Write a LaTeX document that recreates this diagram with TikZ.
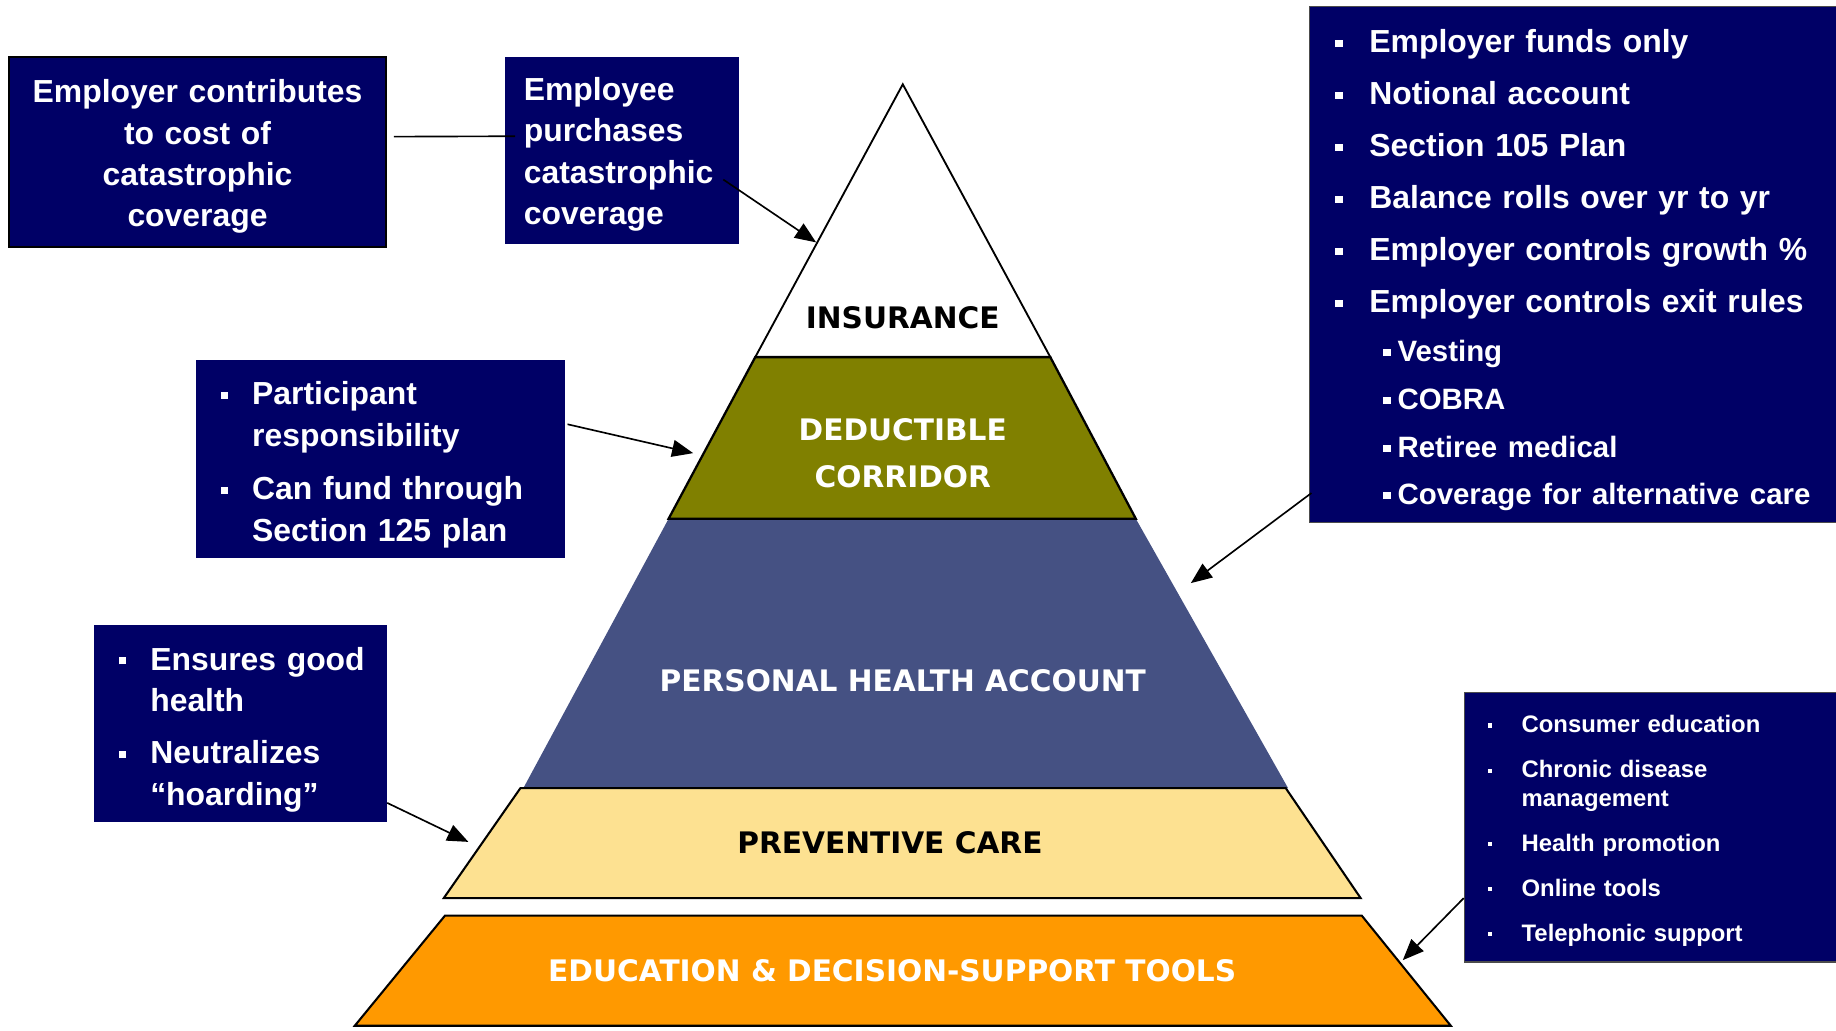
\documentclass[tikz,border=0pt]{standalone}
\usepackage{fontspec}
\setmainfont{Liberation Sans}
\newfontfamily\tierfont{DejaVu Sans}
\usetikzlibrary{arrows.meta}
\usetikzlibrary{positioning}

\definecolor{boxblue}{RGB}{0,0,102}
\definecolor{olivetier}{RGB}{128,128,0}
\definecolor{phablue}{RGB}{69,81,131}
\definecolor{prevyellow}{RGB}{253,225,145}
\definecolor{eduorange}{RGB}{255,153,0}

\newcommand{\sqb}{\rule[0.18em]{0.12cm}{0.12cm}}
\newcommand{\smallsqb}{\rule[0.22em]{0.07cm}{0.07cm}}
% lower a block of lines without changing its size
\newcommand{\drop}[2]{\raisebox{-#1}[\height][\depth]{#2}}

\begin{document}
\begin{tikzpicture}[
  infobox/.style={fill=boxblue, text=white, inner sep=0pt, anchor=north west},
  tier/.style={font=\tierfont\bfseries\fontsize{14.4}{22.8}\selectfont, align=center},
  link/.style={black, line width=0.8pt},
  pointer/.style={link, -{Triangle[length=0.36cm,width=0.29cm]}}
]
\clip (0,0) rectangle (31.36,17.6);

% pyramid tiers
\draw[fill=white,line width=0.9pt] (15.42,16.16) -- (12.9,11.5) -- (17.94,11.5) -- cycle;
\fill[phablue] (11.42,8.74) -- (19.40,8.74) -- (22.0,4.14) -- (8.94,4.14) -- cycle;
\draw[fill=olivetier,line width=1.1pt] (12.9,11.5) -- (17.94,11.5) -- (19.40,8.74) -- (11.42,8.74) -- cycle;
\draw[fill=prevyellow,line width=1pt] (8.89,4.14) -- (21.96,4.14) -- (23.24,2.26) -- (7.58,2.26) -- cycle;
\draw[fill=eduorange,line width=1pt] (7.6,1.96) -- (23.26,1.96) -- (24.78,0.08) -- (6.06,0.08) -- cycle;

\node[tier,text=black] (insur) at (15.42,12.18) {INSURANCE};
\node[tier,text=white] (deductible) at (15.42,9.86) {DEDUCTIBLE\\CORRIDOR};
\node[tier,text=white] (pha) at (15.42,5.98) {PERSONAL HEALTH ACCOUNT};
\node[tier,text=black] (prevcare) at (15.2,3.2) {PREVENTIVE CARE};
\node[tier,text=white] (edu) at (15.24,1.02) {EDUCATION \& DECISION-SUPPORT TOOLS};

% edge points the arrows land on
\coordinate (insEdge) at (13.94,13.46);
\coordinate (dedEdge) at (11.84,9.86);
\coordinate (phaEdge) at (20.34,7.64);
\coordinate (prevEdge) at (8.0,3.22);
\coordinate (eduEdge) at (23.96,1.2);

% call-out boxes
\node[infobox,draw=black,line width=0.8pt,align=center,text width=6.44cm,minimum height=3.24cm,
  font=\bfseries\fontsize{15.5}{20.1}\selectfont] (contrib) at (0.14,16.64)
  {\drop{0.08cm}{\begin{tabular}{@{}c@{}}
   Employer contributes\\to cost of\\catastrophic\\coverage
   \end{tabular}}};

\node[infobox,align=left,inner xsep=0.32cm,text width=3.36cm,minimum height=3.2cm,
  font=\bfseries\fontsize{15.5}{20.1}\selectfont] (buys) at (8.62,16.64)
  {\drop{0.07cm}{\begin{tabular}{@{}l@{}}
   Employee\\purchases\\catastrophic\\coverage
   \end{tabular}}};

\node[infobox,align=left,text width=6.3cm,minimum height=3.38cm,
  font=\bfseries\fontsize{15.5}{20.5}\selectfont] (deduct) at (3.34,11.46)
  {\drop{0.1cm}{\begin{tabular}{@{\hspace{0.42cm}}p{0.54cm}@{}l@{}}
   \sqb & Participant\\ & responsibility\\[5pt]
   \sqb & Can fund through\\ & Section 125 plan
   \end{tabular}}};

\node[infobox,align=left,text width=5cm,minimum height=3.38cm,
  font=\bfseries\fontsize{15.5}{20}\selectfont] (prevent) at (1.6,6.94)
  {\drop{0.1cm}{\begin{tabular}{@{\hspace{0.42cm}}p{0.54cm}@{}l@{}}
   \sqb & Ensures good\\ & health\\[5.6pt]
   \sqb & Neutralizes\\ & “hoarding”
   \end{tabular}}};

\node[infobox,draw=black!70,line width=0.6pt,align=left,text width=9.2cm,minimum height=8.82cm,
  font=\bfseries\fontsize{15.5}{25.3}\selectfont] (phaacct) at (22.36,17.5)
  {\drop{0.06cm}{\begin{tabular}{@{\hspace{0.44cm}}p{0.58cm}@{}l@{}}
   \sqb & Employer funds only\\
   \sqb & Notional account\\
   \sqb & Section 105 Plan\\
   \sqb & Balance rolls over yr to yr\\
   \sqb & Employer controls growth \%\\
   \sqb & Employer controls exit rules\\[-1.4pt]
   & \hspace{0.24cm}\makebox[0.24cm][l]{\sqb}{\fontsize{14.3}{17}\selectfont Vesting}\\[-2pt]
   & \hspace{0.24cm}\makebox[0.24cm][l]{\sqb}{\fontsize{14.3}{17}\selectfont COBRA}\\[-2pt]
   & \hspace{0.24cm}\makebox[0.24cm][l]{\sqb}{\fontsize{14.3}{17}\selectfont Retiree medical}\\[-2.4pt]
   & \hspace{0.24cm}\makebox[0.24cm][l]{\sqb}{\fontsize{14.3}{17}\selectfont Coverage for alternative care}
   \end{tabular}}};

\node[infobox,draw=black!70,line width=0.6pt,align=left,text width=6.56cm,minimum height=4.6cm,
  font=\bfseries\fontsize{11.6}{13.7}\selectfont] (tools) at (25.0,5.78)
  {\drop{0.07cm}{\begin{tabular}{@{\hspace{0.4cm}}p{0.58cm}@{}l@{}}
   \smallsqb & Consumer education\\[8.2pt]
   \smallsqb & Chronic disease\\ & management\\[8.2pt]
   \smallsqb & Health promotion\\[8.2pt]
   \smallsqb & Online tools\\[8.2pt]
   \smallsqb & Telephonic support
   \end{tabular}}};

% connectors
\draw[link] ([xshift=0.12cm,yshift=0.26cm]contrib.east) -- ([xshift=0.18cm,yshift=0.24cm]buys.west);
\draw[pointer] ([xshift=-0.28cm,yshift=-0.5cm]buys.east) -- (insEdge);
\draw[pointer] ([xshift=0.04cm,yshift=0.59cm]deduct.east) -- (dedEdge);
\draw[pointer] ([yshift=0.34cm]prevent.south east) -- (prevEdge);
\draw[pointer] ([xshift=0.04cm,yshift=0.52cm]phaacct.south west) -- (phaEdge);
\draw[pointer] ([yshift=1.1cm]tools.south west) -- (eduEdge);

\end{tikzpicture}
\end{document}
